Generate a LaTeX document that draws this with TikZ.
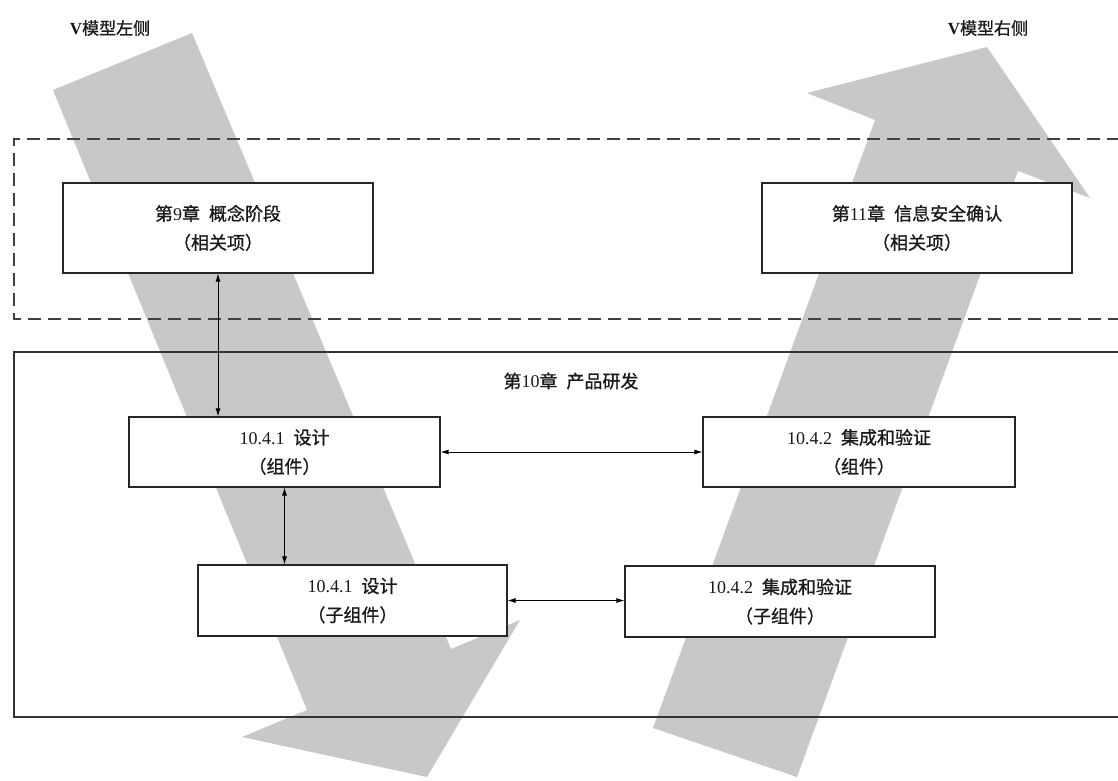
\documentclass[tikz,border=0pt]{standalone}
\usepackage{fontspec}
\setmainfont{Liberation Serif}
\newfontfamily\cjk[FakeBold=0.9]{Noto Sans CJK SC}
\usetikzlibrary{arrows.meta}
\definecolor{vgray}{RGB}{200,200,200}

\begin{document}
\begin{tikzpicture}[x=1pt,y=-1pt,
  flow/.style={fill=vgray},
  frame/.style={draw=black!80, line width=1.3pt},
  dashframe/.style={draw=black!75, line width=1.8pt, dash pattern=on 13pt off 7pt},
  stage/.style={draw=black!85, line width=1.2pt, fill=white, align=center,
    inner sep=0pt, text=black!90, font=\cjk\fontsize{18}{29}\selectfont,
    minimum width=310pt, minimum height=70pt},
  title/.style={font=\cjk\fontsize{17}{20}\selectfont, text=black!90, inner sep=0pt},
  link/.style={draw=black, line width=0.8pt,
    {Latex[length=8pt,width=5pt]}-{Latex[length=8pt,width=5pt]}}
]
\useasboundingbox (0,0) rectangle (1118,780);
\clip (0,0) rectangle (1118,780);

% broad arrows of the V model: left side down, right side up
\fill[flow] (53,90) -- (192,33) -- (451,649) -- (520,620) -- (427,777)
  -- (242,737) -- (307,710) -- cycle;
\fill[flow] (653,728) -- (875,120) -- (807,93) -- (987,47) -- (1090,198)
  -- (1018,171) -- (797,777) -- cycle;

% frames: item level (dashed) and product development (solid)
\draw[dashframe] (1140,139) -- (14,139) -- (14,319) -- (1140,319);
\draw[frame] (1140,352) -- (14,352) -- (14,717) -- (1140,717);

% labels
\node[title] (vl) at (110,28) {{\rmfamily\bfseries V}模型左侧};
\node[title] (vr) at (988,28) {{\rmfamily\bfseries V}模型右侧};
\node[title, font=\cjk\fontsize{18}{20}\selectfont] (ch10) at (571,381)
  {第{\rmfamily 10}章\enspace 产品研发};

% stages
\node[stage, minimum height=90pt] (c9) at (218,228)
  {第{\rmfamily 9}章\enspace 概念阶段\\（相关项）};
\node[stage, minimum height=90pt] (c11) at (917,228)
  {第{\rmfamily 11}章\enspace 信息安全确认\\（相关项）};
\node[stage, minimum width=311pt] (d1) at (284.5,452)
  {{\rmfamily 10.4.1}\enspace 设计\\（组件）};
\node[stage, minimum width=309pt, minimum height=71pt] (d2) at (352.5,600.5)
  {{\rmfamily 10.4.1}\enspace 设计\\（子组件）};
\node[stage, minimum width=312pt] (i1) at (859,452)
  {{\rmfamily 10.4.2}\enspace 集成和验证\\（组件）};
\node[stage, minimum height=71pt] (i2) at (780,601.5)
  {{\rmfamily 10.4.2}\enspace 集成和验证\\（子组件）};

% connectors
\draw[link] (c9.south) -- (c9.south |- d1.north);
\draw[link] (d1.south) -- (d1.south |- d2.north);
\draw[link] (d1.east) -- (i1.west);
\draw[link] (d2.east) -- (i2.west |- d2.east);
\end{tikzpicture}
\end{document}
